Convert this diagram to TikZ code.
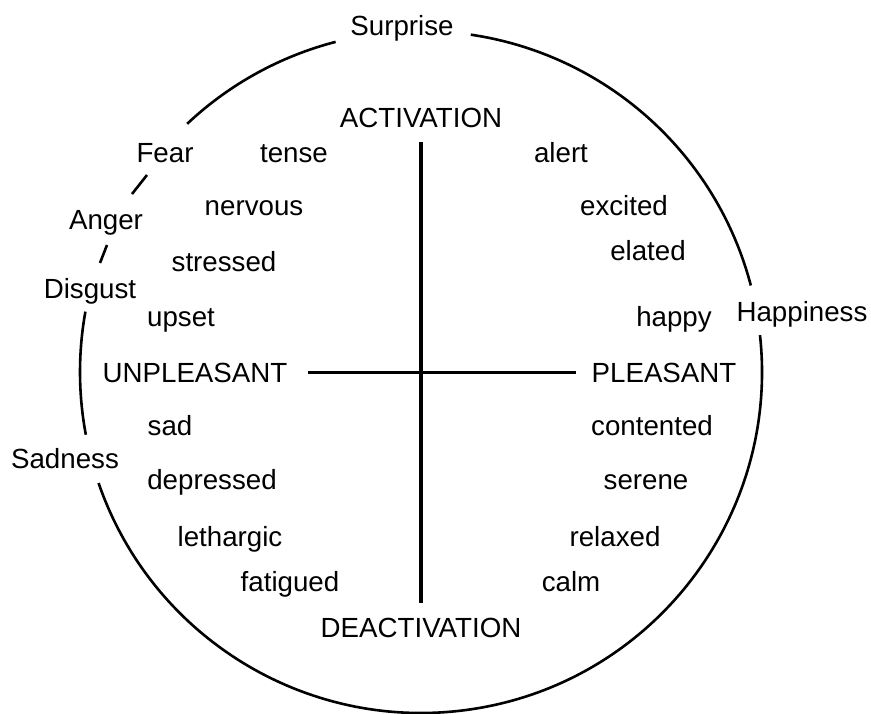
\documentclass[tikz,border=0pt]{standalone}
\usepackage{fontspec}
\setmainfont{Liberation Sans}
\begin{document}
\begin{tikzpicture}[x=1pt,y=1pt,
  lbl/.style={inner sep=0pt,anchor=base,font=\fontsize{27.7}{32}\selectfont},
  circ/.style={line width=2.6pt},
  axis/.style={line width=3.1pt},
  slash/.style={line width=2.6pt}]
\useasboundingbox (0,0) rectangle (871,-713);
\coordinate (c) at (421,-372);
% labels
\node[lbl] (surprise) at (402,-35) {Surprise};
\node[lbl] (act) at (421,-127) {ACTIVATION};
\node[lbl] (fear) at (165,-162) {Fear};
\node[lbl] (tense) at (294,-162) {tense};
\node[lbl] (alert) at (561,-162) {alert};
\node[lbl] (nervous) at (254,-215) {nervous};
\node[lbl] (excited) at (624,-215) {excited};
\node[lbl] (anger) at (106,-229) {Anger};
\node[lbl] (elated) at (648,-260) {elated};
\node[lbl] (stressed) at (224,-271) {stressed};
\node[lbl] (disgust) at (90,-298) {Disgust};
\node[lbl] (happiness) at (802,-321) {Happiness};
\node[lbl] (upset) at (181,-326) {upset};
\node[lbl] (happy) at (674,-326) {happy};
\node[lbl] (unp) at (195,-382) {UNPLEASANT};
\node[lbl] (pl) at (664,-382) {PLEASANT};
\node[lbl] (sad) at (170,-435) {sad};
\node[lbl] (contented) at (652,-435) {contented};
\node[lbl] (sadness) at (65,-468) {Sadness};
\node[lbl] (depressed) at (212,-489) {depressed};
\node[lbl] (serene) at (646,-489) {serene};
\node[lbl] (lethargic) at (230,-546) {lethargic};
\node[lbl] (relaxed) at (615,-546) {relaxed};
\node[lbl] (fatigued) at (290,-591) {fatigued};
\node[lbl] (calm) at (571,-591) {calm};
\node[lbl] (deact) at (421,-637) {DEACTIVATION};
% axes
\draw[axis,shorten <=15pt,shorten >=14pt] (act.south) -- (deact.north);
\draw[axis,shorten <=20pt,shorten >=15pt] (unp.east) -- (pl.west);
% circle arcs
\draw[circ] ([shift={(81.6:341pt)}]c) arc[start angle=81.6,end angle=14.7,radius=341pt];
\draw[circ] ([shift={(6.2:341pt)}]c) arc[start angle=6.2,end angle=-161,radius=341pt];
\draw[circ] ([shift={(190.6:341pt)}]c) arc[start angle=190.6,end angle=169.8,radius=341pt];
\draw[circ] ([shift={(133.3:341pt)}]c) arc[start angle=133.3,end angle=104.5,radius=341pt];
% slashes
\coordinate (s1a) at (147,-175); \coordinate (s1b) at (132,-194);
\coordinate (s2a) at (107,-245); \coordinate (s2b) at (100,-263);
\draw[slash] (s1a) -- (s1b);
\draw[slash] (s2a) -- (s2b);
\end{tikzpicture}
\end{document}
